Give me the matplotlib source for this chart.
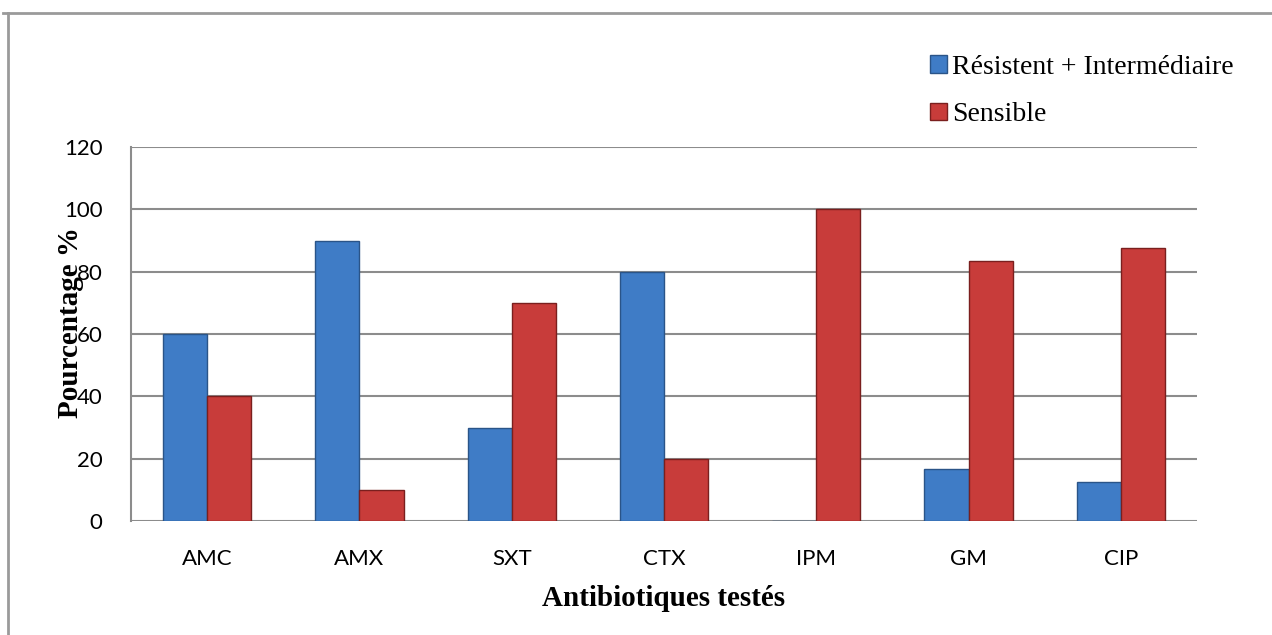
import matplotlib.pyplot as plt
import numpy as np
from matplotlib.lines import Line2D

antibiotiques = ["AMC", "AMX", "SXT", "CTX", "IPM", "GM", "CIP"]
resistant = [60, 90, 30, 80, 0, 16.7, 12.5]
sensible = [40, 10, 70, 20, 100, 83.3, 87.5]

blue = "#3f7cc6"
red = "#c83c3a"

fig = plt.figure(figsize=(12.72, 6.35), dpi=100)
ax = fig.add_axes([131 / 1272, 1 - 521 / 635, (1197 - 131) / 1272, (521 - 147) / 635])

x = np.arange(len(antibiotiques))
w = 0.29
ax.bar(x - w / 2, resistant, w, color=blue, edgecolor="#2a5488", linewidth=1.0,
       label="Résistent + Intermédiaire", zorder=3)
ax.bar(x + w / 2, sensible, w, color=red, edgecolor="#7a1f1e", linewidth=1.0,
       label="Sensible", zorder=3)

ax.set_xlim(-0.5, len(antibiotiques) - 0.5)
ax.set_ylim(0, 120)
ax.set_yticks(range(0, 121, 20))
ax.set_xticks(x)
ax.set_xticklabels(antibiotiques)
ax.yaxis.grid(True, color="#8c8c8c", linewidth=1.5, zorder=0)
for s in ["top", "right", "bottom"]:
    ax.spines[s].set_visible(False)
ax.spines["left"].set_color("#8c8c8c")
ax.spines["left"].set_linewidth(1.5)
ax.tick_params(axis="both", length=0, labelsize=16)
for lab in ax.get_xticklabels() + ax.get_yticklabels():
    lab.set_family("Lato")
ax.tick_params(axis="y", pad=20.5)
ax.tick_params(axis="x", pad=20)

fig.text(664 / 1272, 1 - 598 / 635, "Antibiotiques testés", ha="center", va="center",
         family="Liberation Serif", weight="bold", fontsize=21)
fig.text(70 / 1272, 1 - 323 / 635, "Pourcentage %", ha="center", va="center", rotation=90,
         family="Liberation Serif", weight="bold", fontsize=21)

leg = fig.legend(loc="upper left", bbox_to_anchor=(905 / 1272, 1 - 30 / 635), frameon=False,
                 prop={"family": "Liberation Serif", "size": 20}, handlelength=0.6,
                 handleheight=0.6, handletextpad=0.2, labelspacing=0.8)

# outer chart frame
fig.add_artist(Line2D([3 / 1272, 1], [1 - 13 / 635, 1 - 13 / 635], color="#9a9a9a", linewidth=2))
fig.add_artist(Line2D([8 / 1272, 8 / 1272], [0, 1 - 13 / 635], color="#9a9a9a", linewidth=2))

fig.savefig("out.png", dpi=100)
